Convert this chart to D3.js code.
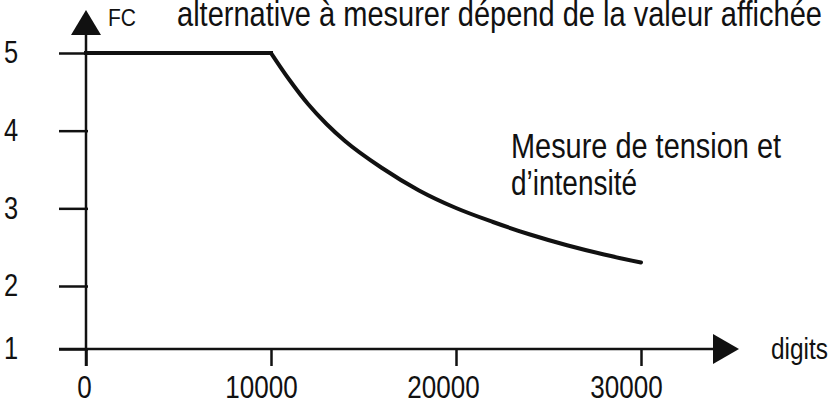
<!DOCTYPE html>
<html><head><meta charset="utf-8">
<script src="https://cdn.jsdelivr.net/npm/d3@7"></script>
<style>body{margin:0;background:#fff} svg{display:block;background:#fff}</style>
</head><body><svg id="c" width="830" height="410"></svg>
<script>
// ---- data ----
const digits = [0, 10000, 11000, 12000, 13000, 14000, 16000, 18000, 20000, 22000, 24000, 26000, 28000, 30000];
const fc     = [5, 5, 4.652, 4.343, 4.086, 3.867, 3.519, 3.230, 3.004, 2.824, 2.663, 2.525, 2.406, 2.303];
const xTicks = [0, 10000, 20000, 30000];
const yTicks = [1, 2, 3, 4, 5];
const yAxisTitle = "FC";
const xAxisTitle = "digits";
const topText = "alternative à mesurer dépend de la valeur affichée";
const curveLabel = ["Mesure de tension et", "d’intensité"];

// ---- style ----
const ink = "#111";
const font = "'Liberation Sans',Arial,sans-serif";
const xLabelShift = [-2, -10, -13, -15];
const squeeze = (sel, f) => sel.each(function () {
  const w = this.getComputedTextLength();
  d3.select(this).attr("textLength", w * f).attr("lengthAdjust", "spacingAndGlyphs");
});

const svg = d3.select("#c");
const x = d3.scaleLinear().domain([0, 30000]).range([86, 641]);
const y = d3.scaleLinear().domain([1, 2, 5]).range([349, 286, 53]);
const x0 = x(0), y0 = y(1);

// x axis
const gx = svg.append("g").attr("transform", `translate(0,${y0})`)
  .call(d3.axisBottom(x).tickValues(xTicks).tickSize(17).tickPadding(10).tickFormat(d3.format("d")));
gx.select(".domain").remove();
gx.selectAll(".tick line").attr("stroke", ink).attr("stroke-width", 2.5);
gx.selectAll(".tick text").attr("font-family", font).attr("font-size", 31)
  .attr("fill", ink).attr("dx", (d, i) => xLabelShift[i]).call(squeeze, 0.84);

// y axis
const gy = svg.append("g").attr("transform", `translate(${x0},0)`)
  .call(d3.axisLeft(y).tickValues(yTicks).tickSize(27).tickPadding(0).tickFormat(d3.format("d")));
gy.select(".domain").remove();
gy.selectAll(".tick line").attr("stroke", ink).attr("stroke-width", 2.5).attr("x1", 2);
gy.selectAll(".tick text").attr("x", -75).attr("text-anchor", "middle")
  .attr("font-family", font).attr("font-size", 31).attr("fill", ink).call(squeeze, 0.82);

// axis lines with arrows
svg.append("line").attr("x1", x0 - 27).attr("x2", 714).attr("y1", y0).attr("y2", y0)
  .attr("stroke", ink).attr("stroke-width", 2.5);
svg.append("path").attr("d", `M713,${y0 - 15}L739,${y0}L713,${y0 + 15}Z`).attr("fill", ink);
svg.append("line").attr("x1", x0).attr("x2", x0).attr("y1", y0 + 17).attr("y2", 34)
  .attr("stroke", ink).attr("stroke-width", 2.5);
svg.append("path").attr("d", `M${x0 - 15},35L${x0},10L${x0 + 15},35Z`).attr("fill", ink);

// curve
const pts = digits.map((d, i) => [d, fc[i]]);
const line = d3.line().x(d => x(d[0])).y(d => y(d[1]));
svg.append("path").attr("d", line.curve(d3.curveLinear)(pts.slice(0, 2)))
  .attr("fill", "none").attr("stroke", ink).attr("stroke-width", 4).attr("stroke-linecap", "square");
svg.append("path").attr("d", line.curve(d3.curveMonotoneX)(pts.slice(1)))
  .attr("fill", "none").attr("stroke", ink).attr("stroke-width", 4)
  .attr("stroke-linecap", "round").attr("stroke-linejoin", "round");

// texts
svg.append("text").attr("x", 108).attr("y", 26).attr("font-family", font).attr("font-size", 23)
  .attr("fill", ink).attr("textLength", 28).attr("lengthAdjust", "spacingAndGlyphs").text(yAxisTitle);
svg.append("text").attr("x", 177).attr("y", 26).attr("font-family", font).attr("font-size", 35)
  .attr("fill", ink).attr("textLength", 645).attr("lengthAdjust", "spacingAndGlyphs").text(topText);
svg.append("text").attr("x", 771).attr("y", 359).attr("font-family", font).attr("font-size", 29)
  .attr("fill", ink).attr("textLength", 57).attr("lengthAdjust", "spacingAndGlyphs").text(xAxisTitle);
const lbl = [270, 126];
curveLabel.forEach((t, i) => {
  svg.append("text").attr("x", 511).attr("y", 158 + i * 37).attr("font-family", font).attr("font-size", 35)
    .attr("fill", ink).attr("textLength", lbl[i]).attr("lengthAdjust", "spacingAndGlyphs").text(t);
});
</script></body></html>
